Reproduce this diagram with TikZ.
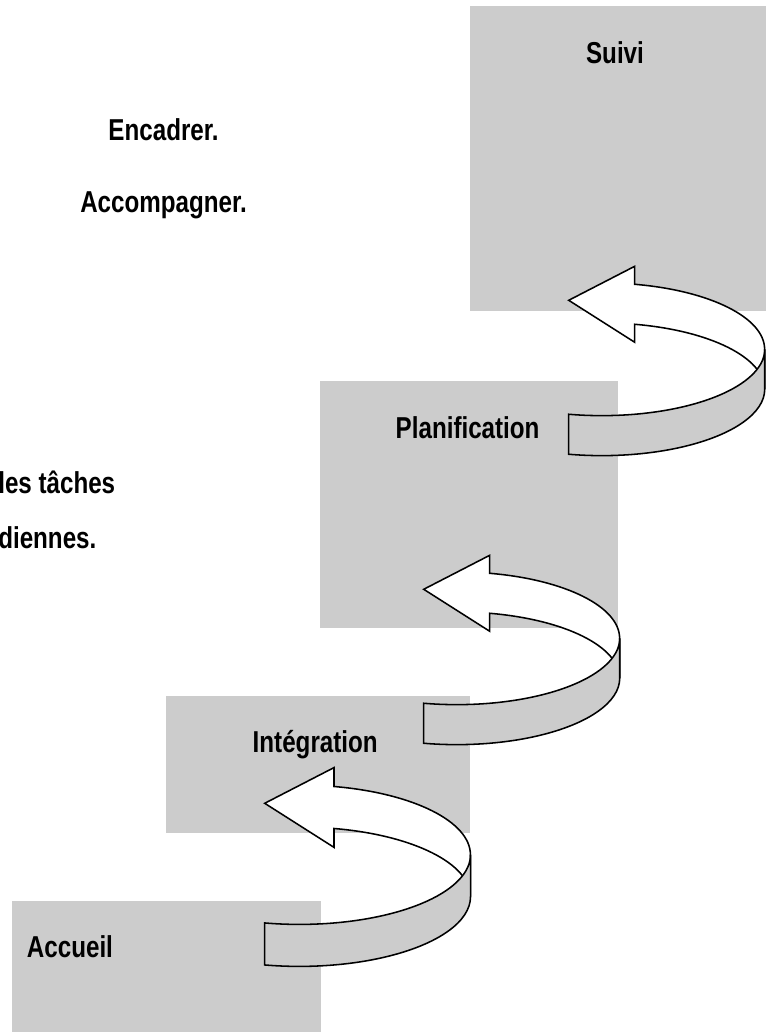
\documentclass[tikz,border=0pt]{standalone}
\usepackage{fontspec}
\setmainfont{Liberation Sans}[FakeStretch=0.8]
\usepackage{tikz}

% curled block arrow, tip at #1, extra transform #2
\newcommand{\curlarrow}[2]{%
  \begin{scope}[shift={(#1)}, x=0.025cm, y=0.025cm, #2]
    % back of the band, with the head
    \filldraw[curl, fill=white] (0,0) -- (66,34) -- (66,16)
      arc[start angle=78.3, end angle=0, x radius=163, y radius=66.4]
      -- ++(0,-40)
      arc[start angle=0, end angle=78.3, x radius=163, y radius=66.4]
      -- (66,-42) -- cycle;
    % front of the band, with the tail
    \filldraw[curl, fill=black!20] (0,-114)
      arc[start angle=258.3, end angle=360, x radius=163, y radius=66.4]
      -- ++(0,-40)
      arc[start angle=360, end angle=258.3, x radius=163, y radius=66.4]
      -- cycle;
  \end{scope}}

\begin{document}
\begin{tikzpicture}[every node/.style={font=\bfseries\fontsize{21.5}{24}\selectfont, inner sep=0pt},
    stage/.style={rectangle, fill=black!20, minimum width=#1},
    curl/.style={draw=black, line width=1.1pt, line join=miter}]
    \useasboundingbox (0,0) rectangle (19.125,-25.8);

    % Stage boxes
    \node[stage=7.4cm, minimum height=7.625cm] (suivi) at (15.45,-3.9625) {};
    \node[stage=7.45cm, minimum height=6.175cm] (plan) at (11.725,-12.6125) {};
    \node[stage=7.6cm, minimum height=3.425cm] (integ) at (7.95,-19.1125) {};
    \node[stage=7.725cm, minimum height=3.3cm] (accueil) at (4.1625,-24.175) {};

    % Stage names
    \node[anchor=base] (suivilbl) at (15.375,-1.575) {Suivi};
    \node[anchor=base] (planlbl) at (11.69,-10.96) {Planification};
    \node[anchor=base] (integlbl) at (7.88,-18.82) {Intégration};
    \node[anchor=base west] (accueillbl) at (0.667,-23.93) {Accueil};

    % Side notes
    \node[anchor=base] (encadrer) at (4.09,-3.5) {Encadrer.};
    \node[anchor=base] (accomp) at (4.09,-5.3) {Accompagner.};
    \node[anchor=base west] (taches) at (-0.05,-12.33) {les tâches};
    \node[anchor=base west] (quot) at (-0.05,-13.7) {diennes.};

    % Arrow tips
    \coordinate (tipA) at ([shift={(2.475,0.275)}]suivi.south west);
    \coordinate (tipB) at ([shift={(2.6,0.975)}]plan.south west);
    \coordinate (tipC) at ([shift={(2.475,0.75)}]integ.south west);

    % Curled arrows
    \curlarrow{tipA}{}
    \curlarrow{tipB}{}
    \curlarrow{tipC}{xscale=1.05, yscale=1.05}
\end{tikzpicture}
\end{document}
